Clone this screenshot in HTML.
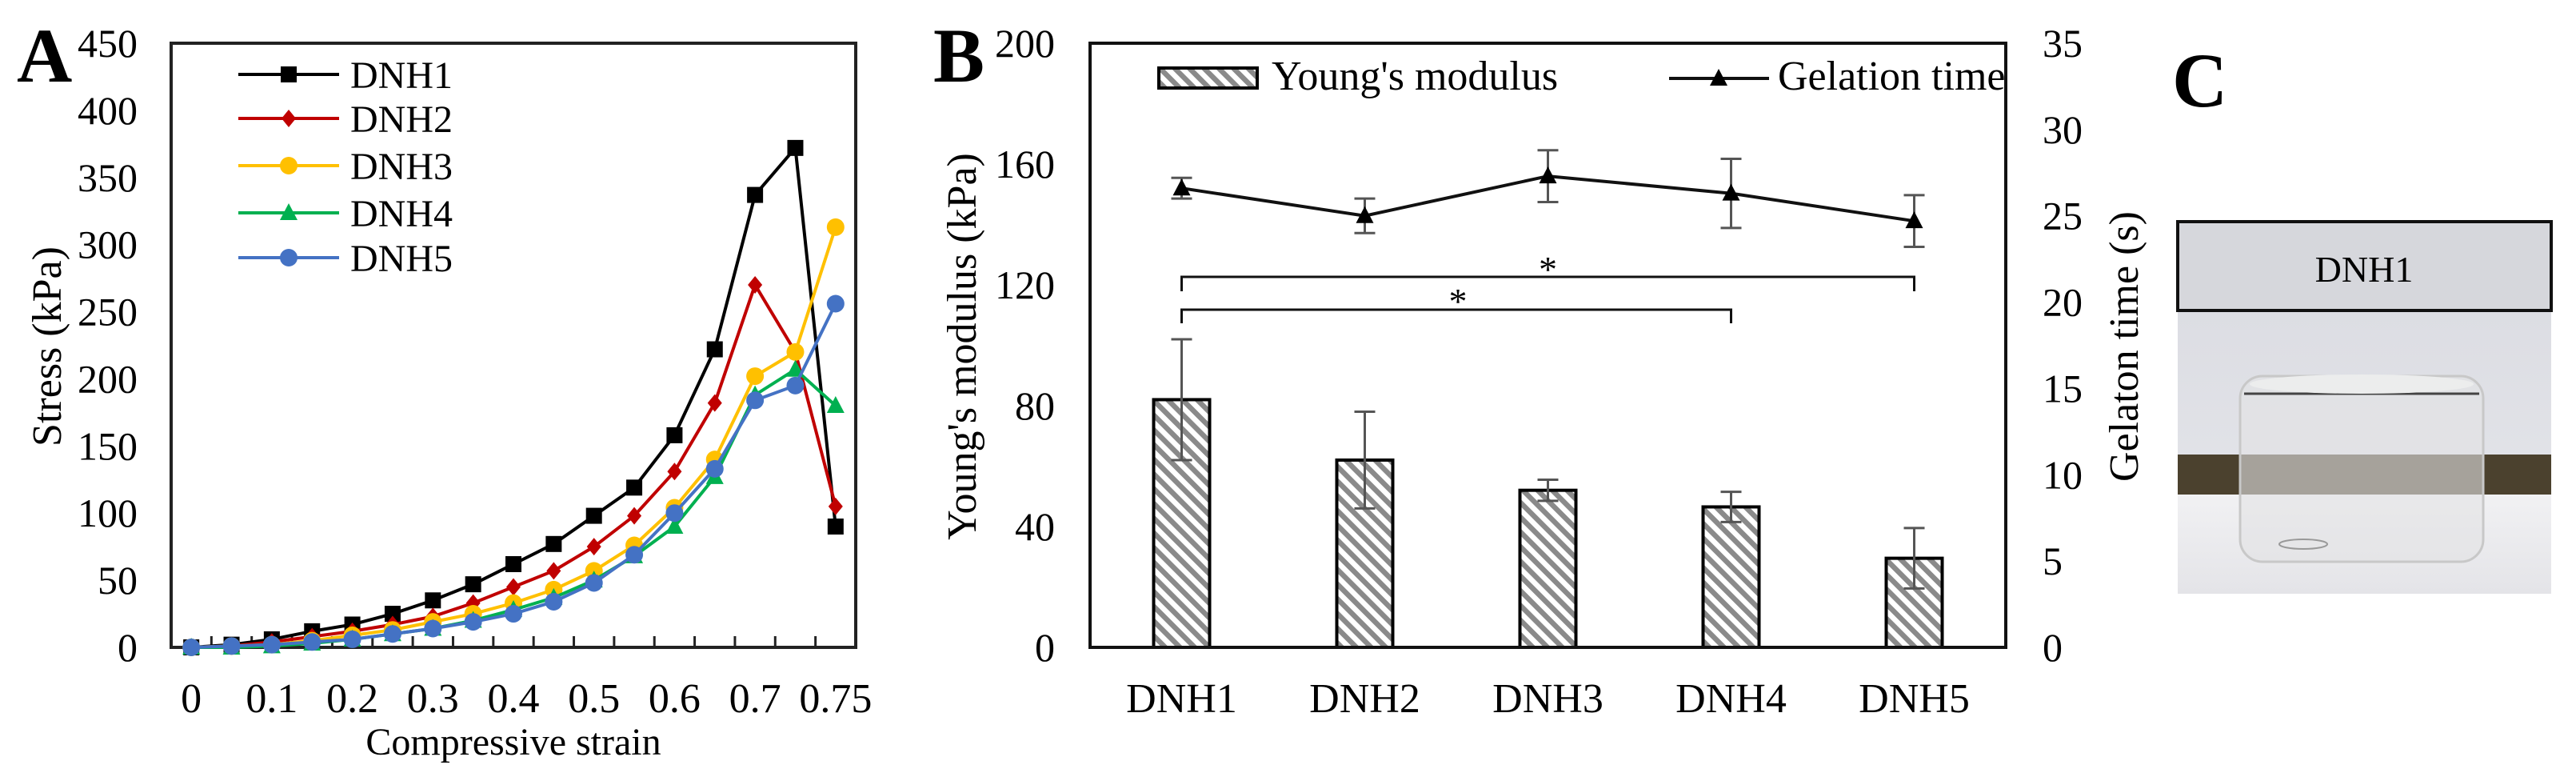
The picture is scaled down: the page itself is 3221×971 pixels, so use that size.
<!DOCTYPE html>
<html><head><meta charset="utf-8"><style>
html,body{margin:0;padding:0;background:#fff;}
svg{display:block;font-family:"Liberation Serif",serif;}
</style></head><body>
<svg id="fig" width="3221" height="971" viewBox="0 0 3221 971" xmlns="http://www.w3.org/2000/svg">
<defs>
<pattern id="hatch" patternUnits="userSpaceOnUse" width="13" height="13" patternTransform="rotate(-45)">
<rect width="13" height="13" fill="#fff"/><rect width="6.5" height="13" fill="#8a8a8a"/>
</pattern>
<linearGradient id="bg" x1="0" y1="0" x2="0" y2="1"><stop offset="0" stop-color="#d9dae0"/><stop offset="1" stop-color="#e6e7ec"/></linearGradient>
<linearGradient id="floor" x1="0" y1="0" x2="0" y2="1"><stop offset="0" stop-color="#f1f1f3"/><stop offset="1" stop-color="#e4e4e8"/></linearGradient>
</defs>
<g id="panelA"></g>
<g id="panelB"></g>
<g id="panelC">
<text x="2716" y="133" font-size="96" font-weight="bold">C</text>
<rect x="2723" y="277" width="467" height="465" fill="url(#bg)"/>
<rect x="2723" y="568" width="467" height="50" fill="#4b412e"/>
<rect x="2723" y="618" width="467" height="124" fill="url(#floor)"/>
<rect x="2801" y="470" width="304" height="232" rx="28" fill="#e2e3e5" fill-opacity="0.6" stroke="#c8c8c8" stroke-width="3"/>
<line x1="2806" y1="492" x2="3100" y2="492" stroke="#444" stroke-width="3"/>
<ellipse cx="2953" cy="480" rx="140" ry="12" fill="#eceded"/>
<ellipse cx="2880" cy="680" rx="30" ry="6" fill="none" stroke="#999" stroke-width="2"/>
<rect x="2723" y="277" width="467" height="111" fill="#d6d7dc" stroke="#111" stroke-width="4"/>
<text x="2956" y="352" font-size="46" text-anchor="middle">DNH1</text>
</g>
</svg>
<script>
// ---------- Panel A data ----------
const strainLabels = ["0","","0.1","","0.2","","0.3","","0.4","","0.5","","0.6","","0.7","","0.75"];
const dnh1 = [0,2,6,12,17,25,35,47,62,77,98,119,158,222,337,372,90];
const dnh2 = [0,1,4,8,12,17,23,33,45,57,75,98,131,182,270,220,105];
const dnh3 = [0,1,2,5,9,13,19,25,33,43,57,76,104,140,202,220,313];
const dnh4 = [0,0,1,3,6,10,14,20,28,37,50,68,90,127,188,207,180];
const dnh5 = [0,1,2,4,6,10,14,19,25,34,48,69,100,133,184,195,256];
const stressTicks = [0,50,100,150,200,250,300,350,400,450];
// ---------- Panel B data ----------
const groups = ["DNH1","DNH2","DNH3","DNH4","DNH5"];
const modulus = [82,62,52,46.5,29.5];
const modulusErr = [20,16,3.5,5,10];
const gelTime = [26.6,25.0,27.3,26.3,24.7];
const gelErr = [0.6,1.0,1.5,2.0,1.5];
const modTicks = [0,40,80,120,160,200];
const gelTicks = [0,5,10,15,20,25,30,35];

const NS="http://www.w3.org/2000/svg";
function mk(parent,tag,attrs,text){const e=document.createElementNS(NS,tag);for(const k in attrs)e.setAttribute(k,attrs[k]);if(text!==undefined)e.textContent=text;parent.appendChild(e);return e;}

// ===== Panel A =====
const A=document.getElementById('panelA');
const aL=214,aR=1070,aT=54,aB=809,aMax=450;
const nA=strainLabels.length, aw=(aR-aL)/nA;
const ax=i=>aL+aw*(i+0.5);
const ay=v=>aB-(v/aMax)*(aB-aT);
let t=mk(A,'text',{x:21,y:102,'font-size':96,'font-weight':'bold'},'A');


let r=mk(A,'rect',{x:aL,y:aT,width:aR-aL,height:aB-aT,fill:'none',stroke:'#222','stroke-width':4});


stressTicks.forEach(v=>{
  const e=mk(A,'text',{x:172,y:ay(v)+17,'font-size':50,'text-anchor':'end'},String(v));
  
  
});
for(let i=1;i<nA;i++){
  const e=mk(A,'line',{x1:aL+aw*i,x2:aL+aw*i,y1:aB,y2:aB-14,stroke:'#222','stroke-width':3});
  
  
}
strainLabels.forEach((l,i)=>{ if(!l)return;
  const e=mk(A,'text',{x:ax(i),y:890,'font-size':52,'text-anchor':'middle'},l);
  
  
});
t=mk(A,'text',{x:642,y:943,'font-size':48,'text-anchor':'middle'},'Compressive strain');


t=mk(A,'text',{x:0,y:0,'font-size':52,'text-anchor':'middle',transform:'translate(76,433) rotate(-90)'},'Stress (kPa)');



function marker(g,shape,x,y,color){
  let e;
  if(shape==='square') e=mk(g,'rect',{x:x-10,y:y-10,width:20,height:20,fill:color});
  else if(shape==='diamond') e=mk(g,'polygon',{points:`${x},${y-11} ${x+9},${y} ${x},${y+11} ${x-9},${y}`,fill:color});
  else if(shape==='circle') e=mk(g,'circle',{cx:x,cy:y,r:11,fill:color});
  else e=mk(g,'polygon',{points:`${x},${y-12} ${x+11},${y+9} ${x-11},${y+9}`,fill:color});
  return e;
}
const seriesA=[
  {name:'DNH1',data:dnh1,color:'#000000',shape:'square'},
  {name:'DNH2',data:dnh2,color:'#c00000',shape:'diamond'},
  {name:'DNH3',data:dnh3,color:'#ffc000',shape:'circle'},
  {name:'DNH4',data:dnh4,color:'#00b050',shape:'triangle'},
  {name:'DNH5',data:dnh5,color:'#4472c4',shape:'circle'}
];
const legY=[93,148,207,266,322];
seriesA.forEach((s,k)=>{
  const g=mk(A,'g',{});
  
  
  const pl=mk(g,'polyline',{points:s.data.map((v,i)=>ax(i)+','+ay(v)).join(' '),fill:'none',stroke:s.color,'stroke-width':4});
  
  
  s.data.forEach((v,i)=>{
    const m=marker(g,s.shape,ax(i),ay(v),s.color);
    
    
  });
  const lg=mk(A,'g',{});
  
  
  mk(lg,'line',{x1:298,x2:424,y1:legY[k],y2:legY[k],stroke:s.color,'stroke-width':4});
  marker(lg,s.shape,361,legY[k],s.color);
  mk(lg,'text',{x:438,y:legY[k]+17,'font-size':48},s.name);
});

// ===== Panel B =====
const B=document.getElementById('panelB');
const bL=1363,bR=2508,bT=54,bB=809,bMax=200,gMax=35;
const bw=(bR-bL)/groups.length;
const bx=i=>bL+bw*(i+0.5);
const by=v=>bB-(v/bMax)*(bB-bT);
const gy=v=>bB-(v/gMax)*(bB-bT);
t=mk(B,'text',{x:1167,y:102,'font-size':96,'font-weight':'bold'},'B');


modTicks.forEach(v=>{
  const e=mk(B,'text',{x:1319,y:by(v)+17,'font-size':50,'text-anchor':'end'},String(v));
  
  
});
gelTicks.forEach(v=>{
  const e=mk(B,'text',{x:2554,y:gy(v)+17,'font-size':50},String(v));
  
  
});
t=mk(B,'text',{x:0,y:0,'font-size':52,'text-anchor':'middle',transform:'translate(1220,433) rotate(-90)'},"Young's modulus (kPa)");


t=mk(B,'text',{x:0,y:0,'font-size':52,'text-anchor':'middle',transform:'translate(2673,433) rotate(-90)'},'Gelaton time (s)');


groups.forEach((g,i)=>{
  const e=mk(B,'text',{x:bx(i),y:890,'font-size':52,'text-anchor':'middle'},g);
  
  
});
modulus.forEach((v,i)=>{
  const b=mk(B,'rect',{x:bx(i)-35,y:by(v),width:70,height:by(0)-by(v),fill:'url(#hatch)',stroke:'#000','stroke-width':4});
  
  
  const e=modulusErr[i];
  const eb=mk(B,'path',{d:`M${bx(i)},${by(v+e)}V${by(v-e)}M${bx(i)-13},${by(v+e)}H${bx(i)+13}M${bx(i)-13},${by(v-e)}H${bx(i)+13}`,stroke:'#555','stroke-width':3,fill:'none'});
  
  
});
r=mk(B,'rect',{x:bL,y:bT,width:bR-bL,height:bB-bT,fill:'none',stroke:'#111','stroke-width':4});


const gl=mk(B,'polyline',{points:gelTime.map((v,i)=>bx(i)+','+gy(v)).join(' '),fill:'none',stroke:'#111','stroke-width':4});


gelTime.forEach((v,i)=>{
  const e=gelErr[i];
  const eb=mk(B,'path',{d:`M${bx(i)},${gy(v+e)}V${gy(v-e)}M${bx(i)-13},${gy(v+e)}H${bx(i)+13}M${bx(i)-13},${gy(v-e)}H${bx(i)+13}`,stroke:'#555','stroke-width':3,fill:'none'});
  
  
  const x=bx(i),y=gy(v);
  const m=mk(B,'polygon',{points:`${x},${y-12} ${x+11},${y+9} ${x-11},${y+9}`,fill:'#000'});
  
  
});
function bracket(i1,i2,yTop,yBot,starX,starY,name){
  const g=mk(B,'g',{});
  
  
  mk(g,'path',{d:`M${bx(i1)},${yBot}V${yTop}H${bx(i2)}V${yBot}`,fill:'none',stroke:'#111','stroke-width':3});
  mk(g,'text',{x:starX,y:starY,'font-size':46,'text-anchor':'middle'},'*');
}
bracket(0,4,346,364,bx(2),352,'significance-bracket-dnh1-dnh5');
bracket(0,3,387,404,1823,392,'significance-bracket-dnh1-dnh4');
let lg=mk(B,'g',{});


mk(lg,'rect',{x:1449,y:85,width:123,height:25,fill:'url(#hatch)',stroke:'#000','stroke-width':4});
mk(lg,'text',{x:1590,y:112,'font-size':52},"Young's modulus");
lg=mk(B,'g',{});


mk(lg,'line',{x1:2087,x2:2212,y1:98,y2:98,stroke:'#111','stroke-width':4});
mk(lg,'polygon',{points:'2149,86 2160,107 2138,107',fill:'#000'});
mk(lg,'text',{x:2223,y:112,'font-size':52},'Gelation time');
</script>
</body></html>
